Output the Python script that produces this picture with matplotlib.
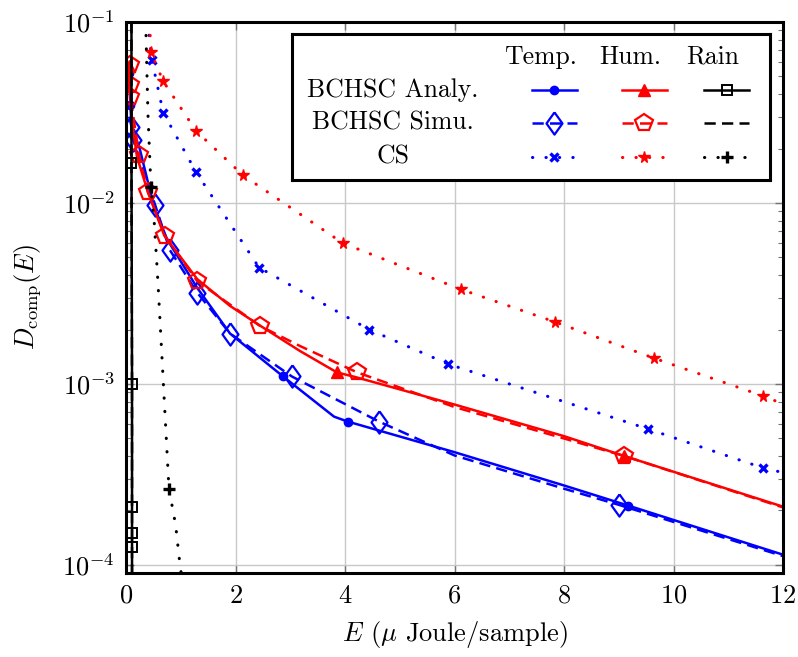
import numpy as np
import matplotlib.pyplot as plt

plt.rcParams['font.family'] = 'serif'
plt.rcParams['font.serif'] = ['cmr10']
plt.rcParams['mathtext.fontset'] = 'cm'
plt.rcParams['axes.formatter.use_mathtext'] = True

# temperature, BCHSC analytical (solid, circles)
temp_an_x = [0.05, 0.06, 0.08, 0.1, 0.15, 0.25, 0.5, 0.75, 1.3, 1.9, 2.87, 3.8, 4.05, 6.0, 8.0, 9.17, 12.0]
temp_an_y = [0.052, 0.045, 0.035, 0.027, 0.024, 0.02, 0.0098, 0.0063, 0.0034, 0.0019, 0.0011,
             0.00066, 0.00062, 0.00042, 0.000275, 0.000213, 0.000114]
temp_an_marks = [0, 2, 10, 12, 15]

# temperature, BCHSC simulation (dashed, diamonds)
temp_sim_x = [0.06, 0.1, 0.13, 0.53, 0.8, 1.3, 1.9, 3.03, 4.62, 6.0, 8.0, 9.0, 12.0]
temp_sim_y = [0.03, 0.0264, 0.0224, 0.0098, 0.0055, 0.0032, 0.0019, 0.0011, 0.00062,
              0.000403, 0.000264, 0.000215, 0.000112]
temp_sim_marks = [1, 2, 3, 4, 5, 6, 7, 8, 11]

# humidity, BCHSC analytical (solid, triangles)
hum_an_x = [0.05, 0.06, 0.08, 0.1, 0.2, 0.4, 0.7, 1.3, 1.9, 2.45, 3.18, 3.85, 4.2, 6.0, 8.0, 9.1, 12.0]
hum_an_y = [0.057, 0.045, 0.039, 0.03, 0.018, 0.0115, 0.0066, 0.0038, 0.0027, 0.0021, 0.00152,
            0.00116, 0.00109, 0.00077, 0.000515, 0.0004, 0.00021]
hum_an_marks = [0, 11, 15]

# humidity, BCHSC simulation (dashed, pentagons)
hum_sim_x = [0.07, 0.07, 0.08, 0.24, 0.4, 0.71, 1.3, 2.45, 3.18, 4.22, 6.0, 8.0, 9.1, 12.0]
hum_sim_y = [0.058, 0.045, 0.0386, 0.0183, 0.0115, 0.0066, 0.0037, 0.00209, 0.00162, 0.00116,
             0.000746, 0.0005, 0.0004, 0.000208]
hum_sim_marks = [0, 1, 2, 3, 4, 5, 6, 7, 9, 12]

# rain, BCHSC analytical / simulation (near-vertical at small E)
rain_an_x = [0.1, 0.1, 0.11, 0.11, 0.11, 0.11, 0.11]
rain_an_y = [0.1, 0.0167, 0.001, 0.00021, 0.00015, 0.000126, 0.00008]
rain_an_marks = [1, 2, 3, 4, 5]
rain_sim_x = [0.1, 0.1, 0.11, 0.11, 0.11]
rain_sim_y = [0.1, 0.0167, 0.001, 0.00015, 0.00008]

# CS curves (dotted)
cs_temp_x = [0.38, 0.42, 0.47, 0.68, 1.28, 2.43, 4.44, 5.88, 9.53, 11.63, 12.0]
cs_temp_y = [0.1, 0.086, 0.062, 0.0316, 0.0148, 0.0044, 0.002, 0.00129, 0.000565, 0.000344, 0.000324]
cs_temp_marks = [2, 3, 4, 5, 6, 7, 8, 9]

cs_hum_x = [0.43, 0.456, 0.68, 1.28, 2.14, 3.96, 6.12, 7.84, 9.64, 11.63, 12.0]
cs_hum_y = [0.1, 0.068, 0.047, 0.025, 0.0142, 0.006, 0.00333, 0.0022, 0.00139, 0.00086, 0.000776]
cs_hum_marks = [1, 2, 3, 4, 5, 6, 7, 8, 9]

cs_rain_x = [0.36, 0.40, 0.456, 0.515, 0.56, 0.589, 0.687, 0.785, 0.822, 0.907, 0.986, 1.02]
cs_rain_y = [0.1, 0.0316, 0.0122, 0.0079, 0.0048, 0.0034, 0.00095, 0.000263, 0.000229,
             0.000166, 0.0001, 0.000085]
cs_rain_marks = [2, 7]

diamond = [(0, 1), (0.72, 0), (0, -1), (-0.72, 0), (0, 1)]
dotted = (0, (0.1, 4.3))
dashed = (0, (4.5, 2.5))

fig = plt.figure(figsize=(7.98, 6.57), dpi=100)
ax = fig.add_axes([126 / 798, 1 - 573 / 657, 657 / 798, 551 / 657])

ax.plot(temp_an_x, temp_an_y, color='blue', lw=1.8, marker='o', ms=6, markevery=temp_an_marks)
ax.plot(temp_sim_x, temp_sim_y, color='blue', lw=1.8, ls=dashed, marker=diamond, ms=16,
        mfc='none', mew=1.6, markevery=temp_sim_marks)
ax.plot(hum_an_x, hum_an_y, color='red', lw=1.8, marker='^', ms=8, markevery=hum_an_marks)
ax.plot(hum_sim_x, hum_sim_y, color='red', lw=1.8, ls=dashed, marker='p', ms=13,
        mfc='none', mew=1.6, markevery=hum_sim_marks)
ax.plot(rain_an_x, rain_an_y, color='black', lw=1.8, marker='s', ms=6.5, mfc='none', mew=1.4,
        markevery=rain_an_marks)
ax.plot(rain_sim_x, rain_sim_y, color='black', lw=1.8, ls=dashed)
ax.plot(cs_temp_x, cs_temp_y, color='blue', lw=2.2, ls=dotted, dash_capstyle='round',
        marker='x', ms=6, mew=2.4, markevery=cs_temp_marks)
ax.plot(cs_hum_x, cs_hum_y, color='red', lw=2.2, ls=dotted, dash_capstyle='round',
        marker='*', ms=8.5, markevery=cs_hum_marks)
ax.plot(cs_rain_x, cs_rain_y, color='black', lw=2.2, ls=dotted, dash_capstyle='round',
        marker='+', ms=8, mew=2.4, markevery=cs_rain_marks)

ax.set_yscale('log')
ax.set_xlim(0, 12)
ax.set_ylim(9.03e-5, 0.1)
ax.set_xticks([0, 2, 4, 6, 8, 10, 12])
ax.grid(True, which='major', color='#c8c8c8', lw=1)
ax.set_axisbelow(True)
ax.tick_params(which='both', direction='in', top=True, right=True, color='0.45',
               labelsize=19, pad=8)
ax.tick_params(which='major', length=6, width=1)
ax.tick_params(which='minor', length=3.5, width=0.8)
for s in ax.spines.values():
    s.set_linewidth(2.2)
ax.set_xlabel(r'$E$ ($\mu$ Joule/sample)', fontsize=19, labelpad=8)
ax.set_ylabel(r'$D_{\rm comp}(E)$', fontsize=19, labelpad=14)

# table-style legend drawn in pixel coordinates
leg = fig.add_axes([292 / 798, 1 - 180 / 657, 478 / 798, 146 / 657])
leg.set_xticks([])
leg.set_yticks([])
leg.set_facecolor('white')
for s in leg.spines.values():
    s.set_linewidth(2.2)

cols = [554, 644, 727]
rows = [90, 123, 157]
for cx, name in zip(cols, ['Temp.', 'Hum.', 'Rain']):
    leg.text(cx - 14, 57, name, fontsize=18.5, ha='center', va='center')
for cy, name in zip(rows, ['BCHSC Analy.', 'BCHSC Simu.', 'CS']):
    leg.text(393, cy, name, fontsize=18.5, ha='center', va='center')

leg.plot([532, 554, 577], [90, 90, 90], color='blue', lw=1.8, marker='o', ms=6, markevery=[1])
leg.plot([622, 644, 667], [90, 90, 90], color='red', lw=1.8, marker='^', ms=8, markevery=[1])
leg.plot([704, 727, 749], [90, 90, 90], color='black', lw=1.8, marker='s', ms=6.5, mfc='none',
         mew=1.4, markevery=[1])
leg.plot([532, 554, 577], [123, 123, 123], color='blue', lw=1.8, ls=dashed, marker=diamond,
         ms=16, mfc='none', mew=1.6, markevery=[1])
leg.plot([622, 644, 667], [123, 123, 123], color='red', lw=1.8, ls=dashed, marker='p', ms=13,
         mfc='none', mew=1.6, markevery=[1])
leg.plot([704, 749], [123, 123], color='black', lw=1.8, ls=dashed)
leg.plot([532, 554, 577], [157, 157, 157], color='blue', lw=2.2, ls=dotted, dash_capstyle='round',
         marker='x', ms=6, mew=2.4, markevery=[1])
leg.plot([622, 644, 667], [157, 157, 157], color='red', lw=2.2, ls=dotted, dash_capstyle='round',
         marker='*', ms=8.5, markevery=[1])
leg.plot([704, 727, 749], [157, 157, 157], color='black', lw=2.2, ls=dotted, dash_capstyle='round',
         marker='+', ms=8, mew=2.4, markevery=[1])
leg.set_xlim(292, 770)
leg.set_ylim(180, 34)

fig.savefig('out.png', dpi=100)
